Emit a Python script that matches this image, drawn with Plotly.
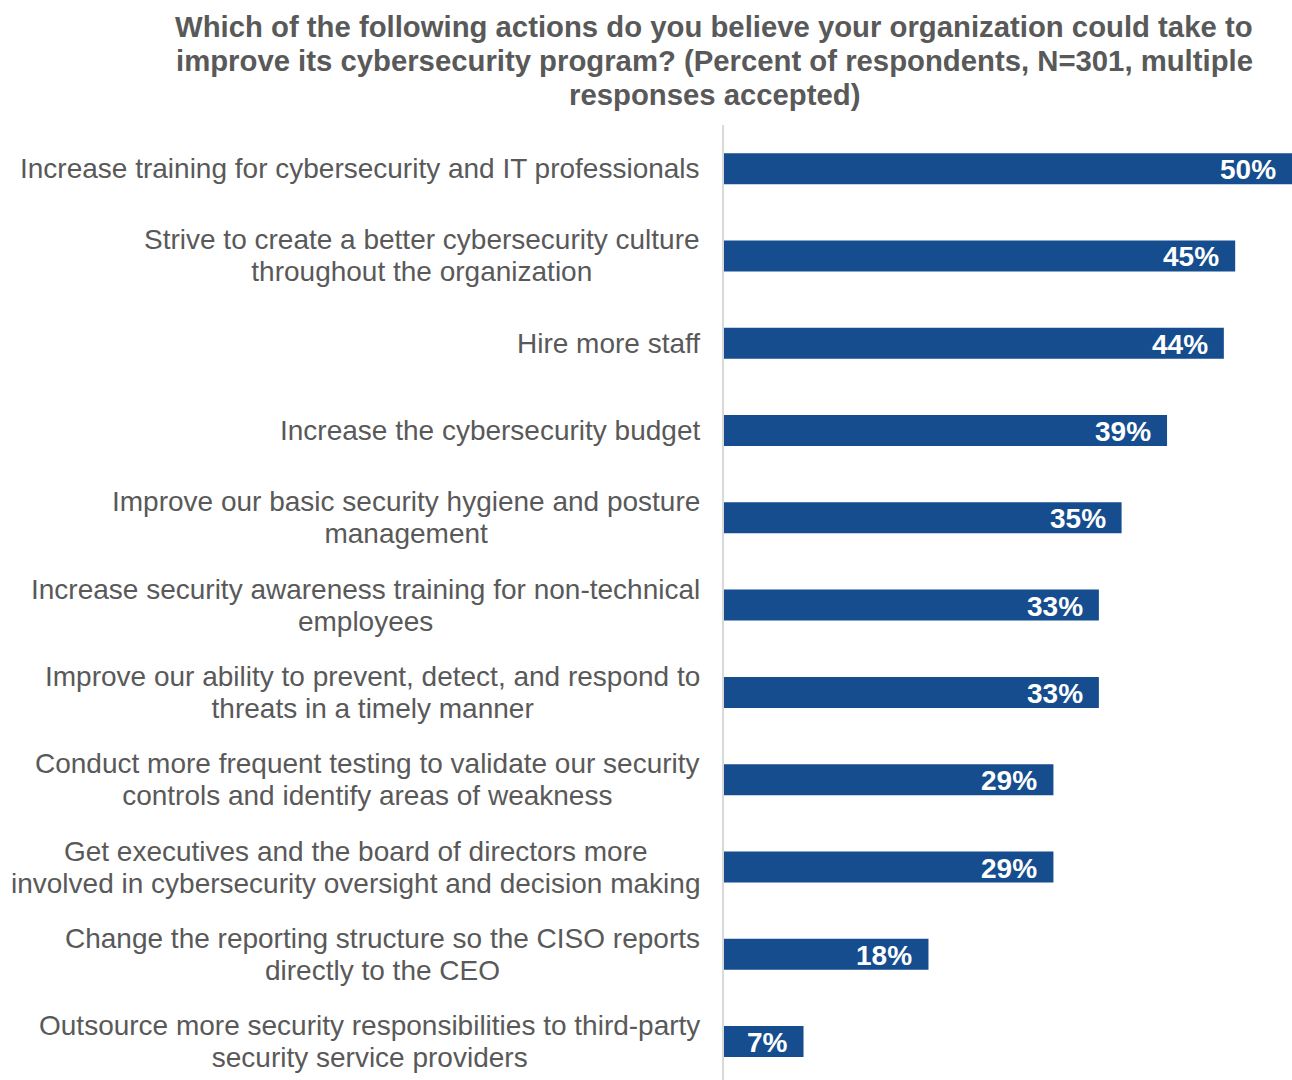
import plotly.graph_objects as go

# Survey answers, top to bottom
actions = [
    "Increase training for cybersecurity and IT professionals",
    "Strive to create a better cybersecurity culture<br>throughout the organization",
    "Hire more staff",
    "Increase the cybersecurity budget",
    "Improve our basic security hygiene and posture<br>management",
    "Increase security awareness training for non-technical<br>employees",
    "Improve our ability to prevent, detect, and respond to<br>threats in a timely manner",
    "Conduct more frequent testing to validate our security<br>controls and identify areas of weakness",
    "Get executives and the board of directors more<br>involved in cybersecurity oversight and decision making",
    "Change the reporting structure so the CISO reports<br>directly to the CEO",
    "Outsource more security responsibilities to third-party<br>security service providers",
]
percent = [50, 45, 44, 39, 35, 33, 33, 29, 29, 18, 7]

title_lines = [
    "Which of the following actions do you believe your organization could take to",
    "improve its cybersecurity program? (Percent of respondents, N=301, multiple",
    "responses accepted)",
]

BAR = "#154D8E"
GREY = "#595959"
FONT = "Liberation Sans, Arial, sans-serif"
LABEL_SIZE = 28
LABEL_LEADING = 32
TITLE_SIZE = 29.3
TITLE_LEADING = 34

fig = go.Figure(
    go.Bar(
        x=percent,
        y=actions,
        orientation="h",
        marker=dict(color=BAR, line=dict(width=0)),
        width=0.355,
        hoverinfo="skip",
    )
)


def tight(text, size):
    """Wrap each line in a sized span; the base font sets a tighter leading."""
    return "<br>".join(
        f'<span style="font-size:{size}px">{ln}</span>' for ln in text.split("<br>")
    )


annotations = []
# category labels: centred lines, block right-aligned next to the axis
for a in actions:
    annotations.append(dict(
        x=0, xref="paper", y=a, yref="y",
        text=tight(a, LABEL_SIZE), showarrow=False,
        xanchor="right", yanchor="middle", align="center",
        xshift=-22,
        font=dict(family=FONT, size=LABEL_LEADING / 1.3, color=GREY),
    ))

# value labels inside the bar ends
for a, v in zip(actions, percent):
    annotations.append(dict(
        x=v, xref="x", y=a, yref="y",
        text=f"<b>{v}%</b>", showarrow=False,
        xanchor="right", yanchor="middle",
        xshift=-14, yshift=-1,
        font=dict(family=FONT, size=LABEL_SIZE, color="white"),
    ))

# three-line bold title above the plot
for i, line in enumerate(title_lines):
    annotations.append(dict(
        x=0, xref="paper", y=1, yref="paper",
        text=f"<b>{line}</b>", showarrow=False,
        xanchor="center", yanchor="middle",
        xshift=-10, yshift=125 - (26 + i * TITLE_LEADING),
        font=dict(family=FONT, size=TITLE_SIZE, color=GREY),
    ))

fig.update_layout(
    width=1292, height=1080,
    margin=dict(l=724, r=0, t=125, b=0),
    paper_bgcolor="white", plot_bgcolor="white",
    showlegend=False,
    xaxis=dict(range=[0, 50], visible=False, fixedrange=True),
    yaxis=dict(
        categoryorder="array", categoryarray=actions,
        range=[10.44, -0.5],
        showticklabels=False, showgrid=False, zeroline=False, ticks="",
        showline=True, linecolor="#D9D9D9", linewidth=2,
    ),
    annotations=annotations,
)

fig.write_html("out.html")
